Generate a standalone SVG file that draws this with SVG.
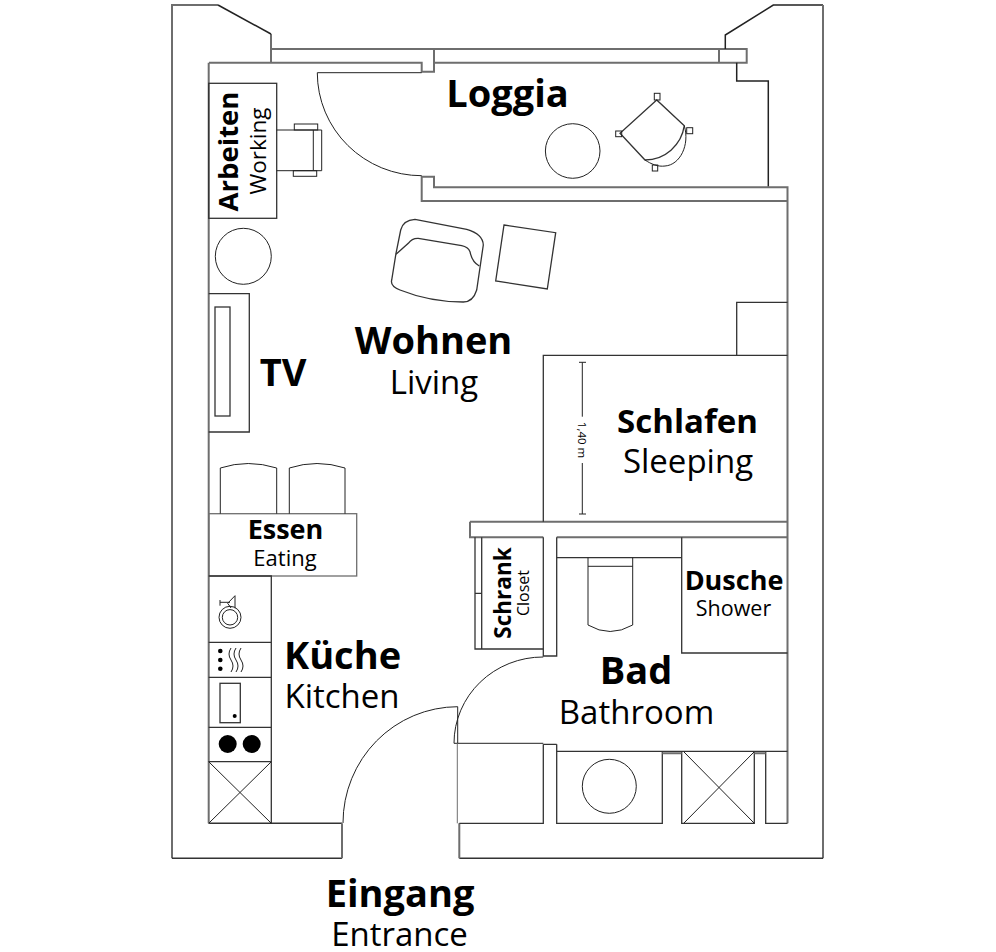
<svg xmlns="http://www.w3.org/2000/svg" width="996" height="952" viewBox="0 0 996 952">
<style>
.w{fill:none;stroke:#6e6e6e;stroke-width:2}
.d{fill:none;stroke:#333;stroke-width:1.3}
.t{fill:none;stroke:#222;stroke-width:1}
text{font-family:"Open Sans","Noto Sans","Liberation Sans",sans-serif;fill:#000;text-anchor:middle}
.b{font-weight:700}
</style>
<rect width="996" height="952" fill="#fff"/>
<g id="walls">
<path class="w" d="M271 34V62.7M271 49H719M209 62.7H421.7V71.7H434V62.7H746.7V49H719V62.7M434 49V62.7"/>
<path class="w" d="M172 858.3V5H218"/>
<path class="t" style="stroke-width:1.5" d="M218 5L271 34"/>
<path class="t" style="stroke-width:1.5" d="M725.3 49V35L773.3 5H823M736.7 62.7V81H768.3V186.7"/>
<path class="w" d="M823 5V858.3"/>
<path class="d" style="stroke-width:1.6" d="M172 858.3H342M459.3 858.3H823M208.7 823.3H342"/>
<path class="w" d="M208.7 62.7V823.3M342 823.3V858.3M459.3 823.3V858.3"/>
<path class="w" d="M421.7 176.7H434V187.3H787.5V201H421.7ZM787.5 201V823.3"/>
<path class="w" d="M470 521.7H787.5M470 521.7V537.3H543.3M556.7 537.3H787.5"/>
<path class="d" d="M543.3 537.3V656H556.7V537.3M543.3 744.3H556.7M543.3 744.3V823.3H459.3M556.7 744.3V823.3H662.3V751.3M556.7 751.3H787.5M681.7 751.3V823.3H754.3V751.3M765.7 751.3V823.3H787.5"/>
<path class="w" d="M662.3 753.3H681.7M754.3 753.3H765.7"/>
</g>
<g id="doors">
<path class="t" d="M421.7 72.7H317.3A104.4 103 0 0 0 421.7 175.7"/>
<path class="t" d="M343 823A115 116.3 0 0 1 457.7 706.7V743.3"/>
<path class="t" d="M543.3 657A89 86.3 0 0 0 454 743.3H543.3"/>
<path class="w" style="stroke-width:1" d="M457.3 743.3V823.3"/>
</g>
<g id="arbeiten">
<rect class="d" x="208.7" y="83.3" width="68" height="135"/>
<text class="b" transform="translate(238,151.5) rotate(-90)" font-size="27.5">Arbeiten</text>
<text transform="translate(266,151) rotate(-90)" font-size="22.5">Working</text>
<path class="t" d="M276.7 130H321.7V170.7H276.7M313.3 130V170.7"/>
<rect class="t" x="294.3" y="124" width="23.4" height="6"/>
<rect class="t" x="293.3" y="170.7" width="23.4" height="5.6"/>
<circle class="t" cx="243.3" cy="256.3" r="28"/>
</g>
<g id="tv">
<path class="d" d="M208.7 293.7H249.3V432H208.7"/>
<rect class="d" x="215" y="307" width="15" height="109"/>
<text class="b" x="283" y="386" font-size="38">TV</text>
</g>
<g id="loggia">
<text class="b" x="507.5" y="107" font-size="38">Loggia</text>
<circle class="t" cx="572.7" cy="151" r="27.3"/>
<path class="d" d="M656.7 100L620 133.3L645 160A40 40 0 0 0 684.3 125.7Z"/>
<path class="t" d="M684.3 125.7C690 145 680 165 665 166C658 167 651 164 645 160"/>
<rect class="t" x="654.3" y="93.3" width="5.7" height="6.7"/>
<rect class="t" x="615.7" y="131" width="6" height="5.7"/>
<rect class="t" x="686.7" y="127.7" width="6" height="6"/>
<rect class="t" x="652.3" y="165" width="5.4" height="6"/>
</g>
<g id="living">
<text class="b" x="433.5" y="354" font-size="38">Wohnen</text>
<text x="434" y="394" font-size="33">Living</text>
<path class="d" d="M396 253.3L400.7 230Q403 220 415 219.3L466.7 229.3Q483 234 483.3 245L476.7 290Q473 302 463.3 302Q430 302 400 290Q390 286 391.7 280Z"/>
<path class="d" d="M396 254.3L408.3 243.3Q412 238 418.3 238.3L461.7 245.7Q468 247 470 251.7Q472 262 479.3 266"/>
<path class="d" d="M504 225L555.7 232.7L547.3 289L495.7 281Z"/>
</g>
<g id="bed">
<path class="d" d="M543.3 521.7V355.3H787.5M736.7 355.3V302.3H787.5"/>
<path class="t" d="M582.3 362.3V416.7M582.3 463V514M579 362.3H586M579 514H586"/>
<text transform="translate(578,440) rotate(90)" font-size="11.5">1,40 m</text>
<text class="b" x="687.5" y="433" font-size="33">Schlafen</text>
<text x="688" y="473" font-size="33">Sleeping</text>
</g>
<g id="essen">
<rect class="w" style="stroke-width:1.3" x="208.7" y="513.7" width="148" height="62.3"/>
<path class="t" d="M220.3 513.7V468Q248 459 276.7 468V513.7M289.3 513.7V468Q317 459 345 468V513.7"/>
<text class="b" x="285.5" y="539" font-size="27">Essen</text>
<text x="285" y="565.5" font-size="22">Eating</text>
</g>
<g id="kitchen">
<path class="d" d="M208.7 576H271.3V823.3M208.7 642.3H271.3M208.7 677.3H271.3M208.7 727.3H271.3M208.7 761.7H271.3"/>
<path class="t" d="M208.7 761.7L271.3 823.3M271.3 761.7L208.7 823.3"/>
<circle class="t" cx="230" cy="617.3" r="11"/><circle class="t" cx="230" cy="617.3" r="7.7"/>
<path class="t" d="M220 600V605.7M220 602.3H230M235 595.7V608.3M235 595.7L227.7 603.3L231 608"/>
<circle cx="220.3" cy="651" r="2.3"/><circle cx="220.3" cy="660" r="2.3"/><circle cx="220.3" cy="668.7" r="2.3"/>
<path class="t" d="M231 648Q227 654 231 660T231 672M236 648Q232 654 236 660T236 672M241 648Q237 654 241 660T241 672"/>
<rect class="d" x="220" y="683.3" width="20.3" height="39.4"/>
<circle cx="234.7" cy="716" r="2"/>
<circle cx="227.7" cy="744" r="9"/><circle cx="251.7" cy="744" r="9"/>
<text class="b" x="342.5" y="669" font-size="38">Küche</text>
<text x="342" y="708" font-size="33">Kitchen</text>
</g>
<g id="bath">
<path class="d" d="M475 537.3V649H543.3M481.7 537.3V649M475 593.3H481.7"/>
<text class="b" transform="translate(511,593) rotate(-90)" font-size="22.5">Schrank</text>
<text transform="translate(529,593) rotate(-90)" font-size="16">Closet</text>
<path class="d" d="M556.7 557.7H681.7M681.7 537.3V653H787.5"/>
<path class="t" d="M588 557.7V625Q610 638 632.7 625V557.7M588 566.3H632.7"/>
<text class="b" x="734" y="590" font-size="27">Dusche</text>
<text x="733.5" y="616" font-size="21.5">Shower</text>
<text class="b" x="636" y="684" font-size="38">Bad</text>
<text x="636.5" y="724" font-size="33">Bathroom</text>
<circle class="t" cx="609.3" cy="786.3" r="27"/>
<path class="t" d="M684 752L754 823M754 752L684 823"/>
</g>
<g id="entrance">
<text class="b" x="400" y="907" font-size="38">Eingang</text>
<text x="399.5" y="946" font-size="33">Entrance</text>
</g>
</svg>
